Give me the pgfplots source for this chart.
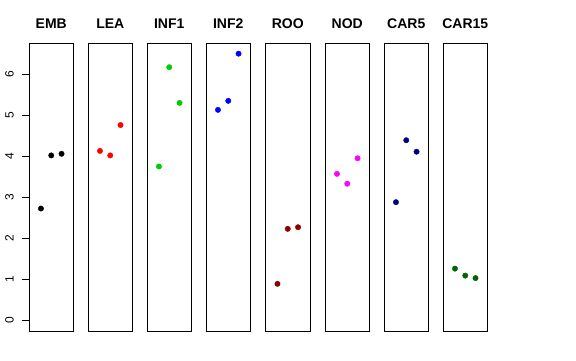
\documentclass[border=0pt]{standalone}
\usepackage{fontspec}
\setmainfont{Liberation Sans}
\usepackage{pgfplots}
\pgfplotsset{compat=1.18}
\definecolor{cEMB}{RGB}{0,0,0}
\definecolor{cLEA}{RGB}{255,0,0}
\definecolor{cINF1}{RGB}{0,205,0}
\definecolor{cINF2}{RGB}{0,0,255}
\definecolor{cROO}{RGB}{139,0,0}
\definecolor{cNOD}{RGB}{255,0,255}
\definecolor{cCARa}{RGB}{0,0,128}
\definecolor{cCARb}{RGB}{0,100,0}
\pgfplotsset{panel/.style={scale only axis, width=44.5bp, height=288bp, anchor=south west,
  xmin=-0.16, xmax=4.16, ymin=-0.26, ymax=6.76, xtick=\empty, ytick=\empty,
  axis line style={line width=0.8bp},
  title style={at={(0.5,1)}, anchor=base, yshift=9bp, font=\fontsize{14bp}{16bp}\selectfont\bfseries},
  clip=false}}
\pgfplotsset{pts/.style={only marks, mark=*, mark size=2.7bp, color=#1, mark options={fill=#1, draw=#1}}}
\begin{document}
\begin{tikzpicture}[x=1bp,y=1bp]
\path[use as bounding box] (0,0) rectangle (576,360);
\begin{axis}[panel, at={(29bp,29bp)}, title={EMB},
  ytick={0,1,2,3,4,5,6}, ytick pos=left, tick align=outside, major tick length=7.5bp,
  tick style={line width=0.8bp, black},
  /pgf/number format/assume math mode=true,
  yticklabel style={xshift=-7.8bp, rotate=90, anchor=base, font=\fontsize{12bp}{14bp}\selectfont}]
\addplot[pts=cEMB] coordinates {(1,2.725) (2,4.02) (3,4.06)};
\end{axis}
\begin{axis}[panel, at={(88bp,29bp)}, title={LEA}]
\addplot[pts=cLEA] coordinates {(1,4.13) (2,4.02) (3,4.76)};
\end{axis}
\begin{axis}[panel, at={(147bp,29bp)}, title={INF1}]
\addplot[pts=cINF1] coordinates {(1,3.75) (2,6.17) (3,5.30)};
\end{axis}
\begin{axis}[panel, at={(206bp,29bp)}, title={INF2}]
\addplot[pts=cINF2] coordinates {(1,5.13) (2,5.35) (3,6.50)};
\end{axis}
\begin{axis}[panel, at={(265.5bp,29bp)}, title={ROO}]
\addplot[pts=cROO] coordinates {(1,0.89) (2,2.23) (3,2.27)};
\end{axis}
\begin{axis}[panel, at={(325bp,29bp)}, title={NOD}]
\addplot[pts=cNOD] coordinates {(1,3.57) (2,3.33) (3,3.95)};
\end{axis}
\begin{axis}[panel, at={(384bp,29bp)}, title={CAR5}]
\addplot[pts=cCARa] coordinates {(1,2.88) (2,4.39) (3,4.11)};
\end{axis}
\begin{axis}[panel, at={(443bp,29bp)}, title={CAR15}]
\addplot[pts=cCARb] coordinates {(1,1.26) (2,1.09) (3,1.03)};
\end{axis}
\end{tikzpicture}
\end{document}
